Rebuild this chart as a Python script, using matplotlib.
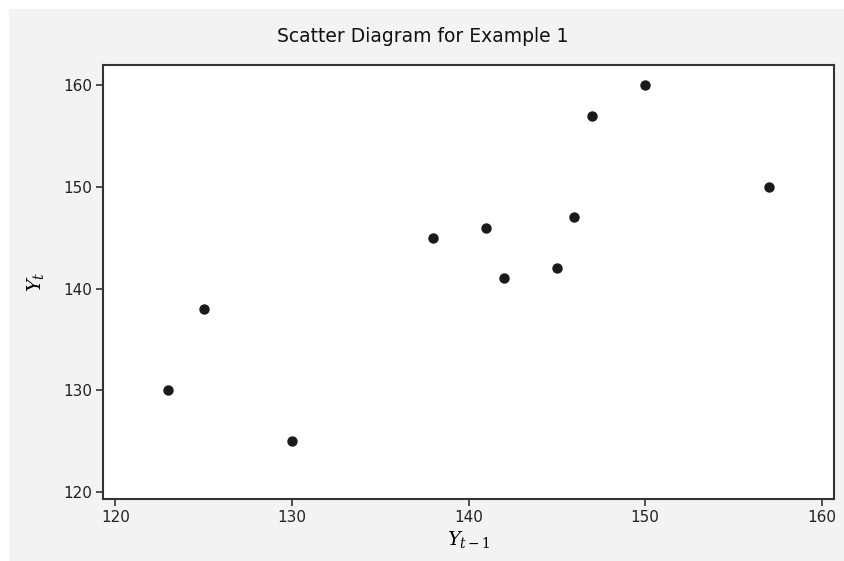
import matplotlib
matplotlib.use("Agg")
import matplotlib.pyplot as plt
from matplotlib.patches import Rectangle

# lagged values Y(t-1) vs Y(t)
y_lag = [123, 125, 130, 138, 141, 142, 145, 146, 147, 150, 157]
y_now = [130, 138, 125, 145, 146, 141, 142, 147, 157, 160, 150]
xticks = [120, 130, 140, 150, 160]
yticks = [120, 130, 140, 150, 160]

plt.rcParams['font.family'] = ['DejaVu Sans']
plt.rcParams['mathtext.fontset'] = 'dejavuserif'

fig = plt.figure(figsize=(8.45, 5.61), dpi=100)
fig.patch.set_facecolor('white')
# gray panel behind everything, leaving a thin white border top-left
fig.patches.append(Rectangle((9 / 845, 0), 1, 1 - 9 / 561, transform=fig.transFigure,
                             facecolor='#f3f3f3', edgecolor='none', zorder=-1))

ax = fig.add_axes([103 / 845, 1 - 499 / 561, (834 - 103) / 845, (499 - 65) / 561])
ax.set_facecolor('white')
ax.scatter(y_lag, y_now, s=42, color='#1a1a1a', zorder=3)

ax.set_xlim(119.3, 160.7)
ax.set_ylim(119.3, 162.0)
ax.set_xticks(xticks)
ax.set_yticks(yticks)
ax.tick_params(direction='out', length=5, width=1.2, color='#333333',
               labelsize=11, labelcolor='#222222', pad=3)
for s in ax.spines.values():
    s.set_color('#333333')
    s.set_linewidth(1.5)

ax.set_xlabel(r'$Y_{t-1}$', fontsize=14, labelpad=3)
ax.set_ylabel(r'$Y_t$', fontsize=14, labelpad=12)
fig.text(0.5, 1 - 36 / 561, 'Scatter Diagram for Example 1', ha='center', va='center',
         fontsize=13.5, color='#111111')

fig.savefig('out.png', dpi=100, facecolor=fig.get_facecolor())
